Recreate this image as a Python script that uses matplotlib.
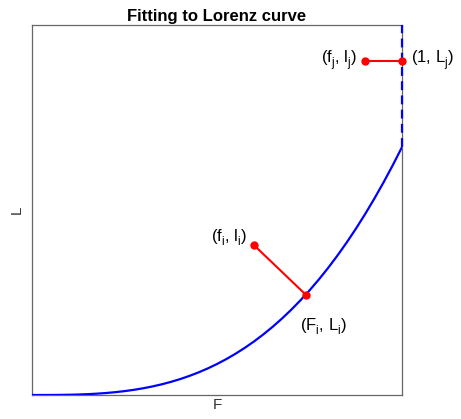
import matplotlib
matplotlib.use("Agg")
import matplotlib.pyplot as plt

plt.rcParams['font.family'] = ['Liberation Sans', 'DejaVu Sans']
plt.rcParams['mathtext.fontset'] = 'custom'
plt.rcParams['mathtext.rm'] = 'Liberation Sans'
plt.rcParams['mathtext.it'] = 'Liberation Sans'
plt.rcParams['mathtext.default'] = 'regular'

# Deeper subscripts, as in the reference
try:
    from matplotlib import _mathtext as _mt
    _mt.FontConstantsBase.sub1 = 0.55
    _mt.FontConstantsBase.sub2 = 0.7
except Exception:
    pass

# Lorenz curve samples
curve_F = [0.0, 0.025, 0.05, 0.075, 0.1, 0.125, 0.15, 0.175, 0.2, 0.225, 0.25,
           0.275, 0.3, 0.325, 0.35, 0.375, 0.4, 0.425, 0.45, 0.475, 0.5,
           0.525, 0.55, 0.575, 0.6, 0.625, 0.65, 0.675, 0.7, 0.725, 0.75,
           0.775, 0.8, 0.825, 0.85, 0.875, 0.9, 0.925, 0.95, 0.975, 1.0]
curve_L = [0.0, 0.00001, 0.00008, 0.00028, 0.00067, 0.00131, 0.00226, 0.00359,
           0.00536, 0.00763, 0.01047, 0.01393, 0.01809, 0.0230, 0.02873,
           0.03533, 0.04288, 0.05143, 0.06105, 0.0718, 0.08375, 0.09695,
           0.11147, 0.12738, 0.14472, 0.16357, 0.18399, 0.20606, 0.22981,
           0.25532, 0.28266, 0.31188, 0.34304, 0.3762, 0.41145, 0.44886,
           0.48843, 0.53028, 0.57443, 0.62097, 0.67]
# Vertical dashed segment at F = 1
dash_F = [1.0, 1.0]
dash_L = [0.67, 1.0]

# Point pairs
pi_obs = (0.60, 0.405)
pi_fit = (0.74, 0.271)
pj_obs = (0.90, 0.903)
pj_fit = (1.00, 0.903)

labels = ["(f$_i$, l$_i$)", "(F$_i$, L$_i$)", "(f$_j$, l$_j$)", "(1, L$_j$)"]

fig = plt.figure(figsize=(4.61, 4.19), dpi=100)
ax = fig.add_axes([32/461, (419-395)/419, 370/461, 370/419])

ax.plot(curve_F, curve_L, color='#0000ff', lw=1.6, solid_capstyle='butt',
        solid_joinstyle='round', zorder=3)
ax.plot(dash_F, dash_L, color='#0000ff', lw=1.6, ls=(0, (4.0, 2.4)),
        zorder=3, clip_on=False)

for a, b in [(pi_obs, pi_fit), (pj_obs, pj_fit)]:
    ax.plot([a[0], b[0]], [a[1], b[1]], color='#ff0000', lw=1.5,
            marker='o', ms=5, mfc='#ff0000', mec='#ff0000', zorder=4,
            clip_on=False)

fs = 12
ax.text(pi_obs[0] - 0.02, pi_obs[1] + 0.02, labels[0], ha='right', va='center', fontsize=fs)
ax.text(pi_fit[0] - 0.015, pi_fit[1] - 0.085, labels[1], ha='left', va='center', fontsize=fs)
ax.text(pj_obs[0] - 0.022, pj_obs[1], labels[2], ha='right', va='center', fontsize=fs)
ax.text(pj_fit[0] + 0.025, pj_fit[1], labels[3], ha='left', va='center', fontsize=fs)

ax.set_xlim(0, 1)
ax.set_ylim(0, 1)
ax.set_xticks([])
ax.set_yticks([])
for s in ax.spines.values():
    s.set_color('#666666')
    s.set_linewidth(0.9)

ax.set_title("Fitting to Lorenz curve", fontsize=12, fontweight='bold', pad=3)
ax.set_xlabel("F", fontsize=11, color='#333333', labelpad=2)
ax.set_ylabel("L", fontsize=11, color='#333333', labelpad=6)

fig.savefig("out.png", dpi=100)
